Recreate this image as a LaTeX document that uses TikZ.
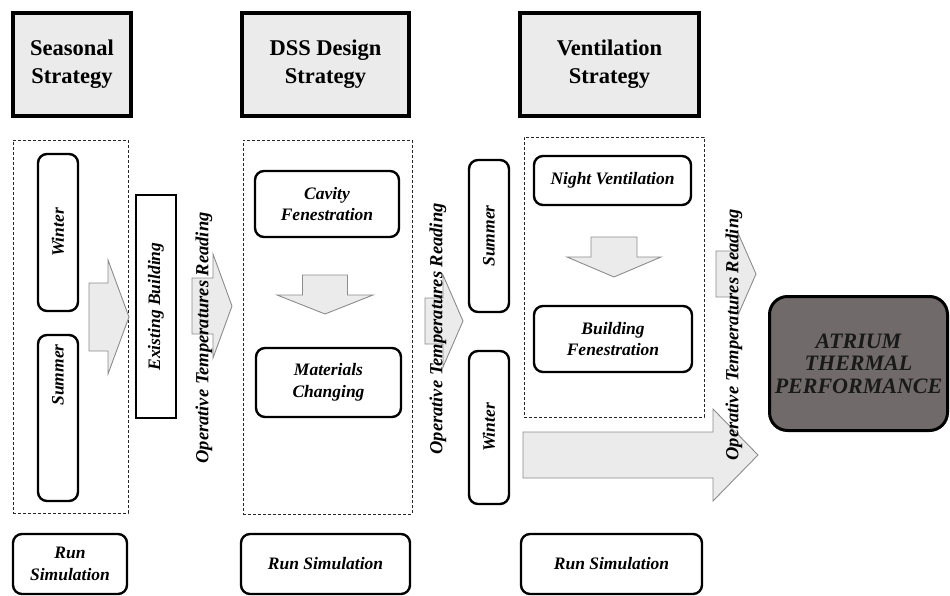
\documentclass[tikz,border=0pt]{standalone}
\usepackage{fontspec}
\setmainfont{Liberation Serif}

\definecolor{boxgray}{HTML}{EBEBEB}
\definecolor{atriumgray}{HTML}{716A6A}
\definecolor{arrowline}{HTML}{8C8C8C}

% block arrows: shaft start, head base, tip, centre, shaft half, head half
\newcommand{\rblock}[6]{%
  \draw[blockarrow] (#1,#4-#5) -- (#2,#4-#5) -- (#2,#4-#6) -- (#3,#4)
    -- (#2,#4+#6) -- (#2,#4+#5) -- (#1,#4+#5) -- cycle;}
\newcommand{\dblock}[6]{%
  \draw[blockarrow] (#1-#5,#2) -- (#1+#5,#2) -- (#1+#5,#3) -- (#1+#6,#3)
    -- (#1,#4) -- (#1-#6,#3) -- (#1-#5,#3) -- cycle;}

\begin{document}
\begin{tikzpicture}[x=1pt, y=-1pt,
  header/.style={draw, line width=4pt, fill=boxgray, minimum width=#1,
    minimum height=103pt, align=center,
    font=\fontsize{22.5}{28}\selectfont\bfseries},
  group/.style 2 args={draw=black!85, line width=0.8pt,
    dash pattern=on 3pt off 2pt, minimum width=#1, minimum height=#2},
  stepbox/.style 2 args={draw, line width=2.4pt, rounded corners=9pt,
    fill=white, minimum width=#1, minimum height=#2, align=center,
    font=\fontsize{17.5}{21.5}\selectfont\bfseries\itshape},
  vbox/.style={stepbox={#1}{40pt}, rotate=90},
  optext/.style={rotate=90, inner sep=0pt,
    font=\fontsize{18.5}{22}\selectfont\bfseries\itshape},
  blockarrow/.style={draw=arrowline, line width=0.9pt, fill=boxgray}]
\useasboundingbox (0,0) rectangle (950,596);

% column headers
\node[header=118pt] (hSeason) at (72,64.5) {Seasonal\\Strategy};
\node[header=167pt] (hDSS) at (325.5,64.5) {DSS Design\\Strategy};
\node[header=179pt] (hVent) at (609.5,64.5) {Ventilation\\Strategy};

% dashed groups
\node[group={115pt}{373pt}] (gSeason) at (70.5,326.5) {};
\node[group={169pt}{374pt}] (gDSS) at (327.5,327) {};
\node[group={180pt}{280pt}] (gVent) at (614,277) {};

% block arrows
\rblock{89}{108}{129}{317}{34}{57}
\rblock{192}{213}{232}{306}{28}{52}
\rblock{425}{443}{463}{321}{23}{46}
\rblock{716}{738}{756}{274}{23}{41}
\rblock{523}{713}{758}{455}{23}{46}
\dblock{325}{275}{295}{314}{22.5}{48}
\dblock{614}{237}{257}{277}{23}{47}

% seasonal strategy
\node[vbox=157pt] (winL) at (58,232.5) {Winter};
\node[vbox=166pt] (sumL) at (58,418) {};
\node[optext, font=\fontsize{17.5}{21.5}\selectfont\bfseries\itshape] (sumLtext) at (58,375) {Summer};
\node[draw, line width=1.2pt, rotate=90, minimum width=223pt, minimum height=40pt,
  font=\fontsize{17.5}{21.5}\selectfont\bfseries\itshape] (exist) at (156,306.5) {Existing Building};

% DSS design strategy
\node[stepbox={144pt}{66pt}] (cavity) at (327,204) {Cavity\\Fenestration};
\node[stepbox={145pt}{69pt}] (material) at (328.5,382.5) {Materials\\Changing};

% ventilation strategy
\node[vbox=152pt] (sumR) at (489,236) {Summer};
\node[vbox=153pt] (winR) at (489,427.5) {Winter};
\node[stepbox={157pt}{49pt}] (night) at (612.5,180.5) {Night Ventilation};
\node[stepbox={158pt}{66pt}] (building) at (613,339) {Building\\Fenestration};

% readings
\node[optext] (read1) at (204,338) {Operative Temperatures Reading};
\node[optext] (read2) at (438,329) {Operative Temperatures Reading};
\node[optext] (read3) at (734,335) {Operative Temperatures Reading};

% result
\node[stepbox={178pt}{134pt}, line width=3pt, rounded corners=18pt, fill=atriumgray,
  text=black!90, font=\fontsize{22}{22.5}\selectfont\bfseries\itshape] (atrium) at (858.5,363.5)
  {ATRIUM\\THERMAL\\PERFORMANCE};

% simulation runs
\node[stepbox={114pt}{60pt}] (runL) at (70,564) {Run\\Simulation};
\node[stepbox={169pt}{60pt}] (runM) at (325.5,564) {Run Simulation};
\node[stepbox={181pt}{60pt}] (runR) at (611.5,564) {Run Simulation};
\end{tikzpicture}
\end{document}
